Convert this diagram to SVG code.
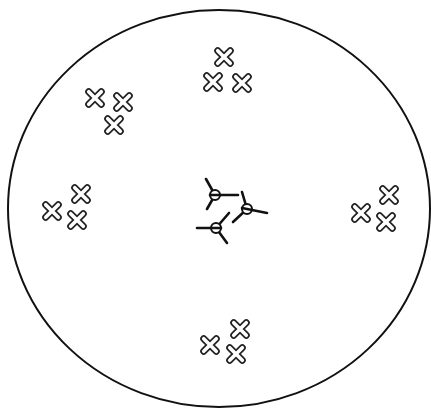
<svg xmlns="http://www.w3.org/2000/svg" width="431" height="408" viewBox="0 0 431 408">
<defs>
<style>
.xo{stroke:#222;stroke-width:7;stroke-linecap:round;fill:none}
.xi{stroke:#fff;stroke-width:3.6;stroke-linecap:round;fill:none}
.pr{stroke:#111;stroke-width:2.6;stroke-linecap:round;fill:none}
.hub{stroke:#111;stroke-width:2;fill:#fff}
</style>
<g id="cross">
<path class="xo" d="M-6.3,-6.3L6.3,6.3M6.3,-6.3L-6.3,6.3"/>
<path class="xi" d="M-6.3,-6.3L6.3,6.3M6.3,-6.3L-6.3,6.3"/>
</g>
</defs>
<rect width="431" height="408" fill="#fff"/>
<ellipse id="boundary" cx="219" cy="208.5" rx="211" ry="198.5" fill="none" stroke="#111" stroke-width="2"/>
<g id="group-top">
<use href="#cross" x="224" y="57"/>
<use href="#cross" x="213" y="82"/>
<use href="#cross" x="242" y="83"/>
</g>
<g id="group-topleft">
<use href="#cross" x="95" y="98"/>
<use href="#cross" x="123" y="102"/>
<use href="#cross" x="114" y="125"/>
</g>
<g id="group-left">
<use href="#cross" x="81" y="194"/>
<use href="#cross" x="52" y="211"/>
<use href="#cross" x="77" y="220"/>
</g>
<g id="group-right">
<use href="#cross" x="389" y="195"/>
<use href="#cross" x="361" y="213"/>
<use href="#cross" x="386" y="222"/>
</g>
<g id="group-bottom">
<use href="#cross" x="240" y="329"/>
<use href="#cross" x="210" y="345"/>
<use href="#cross" x="236" y="354"/>
</g>
<g id="propeller-1">
<path class="pr" d="M215,195L206,179M215,195L238,195M215,195L207,209"/>
<circle class="hub" cx="215" cy="195" r="5"/>
<path class="pr" stroke-width="1.6" d="M210,195L220,195"/>
</g>
<g id="propeller-2">
<path class="pr" d="M247,209L242,192M247,209L267,213M247,209L233,222"/>
<circle class="hub" cx="247" cy="209" r="5"/>
<path class="pr" stroke-width="1.6" d="M242,208L252,210"/>
</g>
<g id="propeller-3">
<path class="pr" d="M216,228L197,228M216,228L229,213M216,228L227,243"/>
<circle class="hub" cx="216" cy="228" r="5"/>
<path class="pr" stroke-width="1.6" d="M211,228L221,228"/>
</g>
</svg>
